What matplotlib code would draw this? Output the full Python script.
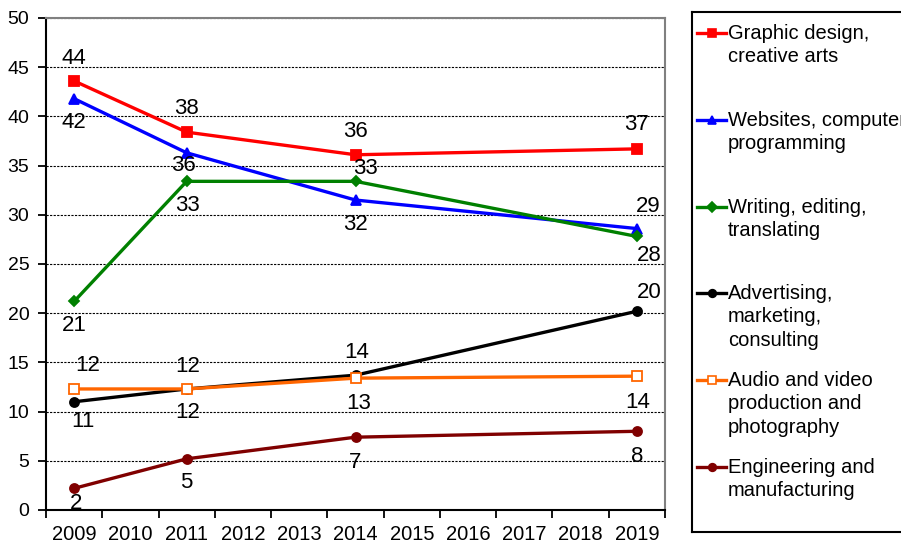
import matplotlib.pyplot as plt
from matplotlib.ticker import MultipleLocator, FixedLocator

plt.rcParams['font.family'] = ['Liberation Sans', 'DejaVu Sans']

# category axis 2009..2019, data only at some years
years = ['2009', '2010', '2011', '2012', '2013', '2014', '2015', '2016', '2017', '2018', '2019']
data_years = ['2009', '2011', '2014', '2019']

series_names = [
    'Graphic design,\ncreative arts',
    'Websites, computer\nprogramming',
    'Writing, editing,\ntranslating',
    'Advertising,\nmarketing,\nconsulting',
    'Audio and video\nproduction and\nphotography',
    'Engineering and\nmanufacturing',
]
graphic = [43.6, 38.4, 36.1, 36.7]
websites = [41.8, 36.3, 31.5, 28.6]
writing = [21.2, 33.4, 33.4, 27.8]
advertising = [11.0, 12.3, 13.7, 20.2]
audio = [12.3, 12.3, 13.4, 13.6]
engineering = [2.2, 5.2, 7.4, 8.0]
values = [graphic, websites, writing, advertising, audio, engineering]

# style per series
colors = ['#ff0000', '#0000ff', '#008000', '#000000', '#ff6600', '#800000']
markers = ['s', '^', 'D', 'o', 's', 'o']
msizes = [7, 7, 5, 6.5, 7, 6.5]
faces = ['#ff0000', '#0000ff', '#008000', '#000000', 'white', '#800000']

# label offsets in pixels (dx, dy) for each point
offsets = [
    [(0, 22), (0, 24), (0, 23), (0, 24)],
    [(0, -24), (-3, -13), (0, -24), (11, 22)],
    [(0, -24), (1, -24), (10, 13), (12, -19)],
    [(9, -20), (1, -24), (1, 23), (12, 19)],
    [(14, 23), (1, 22), (3, -25), (1, -26)],
    [(2, -15), (0, -24), (0, -25), (0, -25)],
]

fig = plt.figure(figsize=(9.01, 5.44), dpi=100)
ax = fig.add_axes([46 / 901, 34 / 544, 619 / 901, 492 / 544])

xpos = [years.index(y) for y in data_years]
for vals, col, mk, ms, fc, offs in zip(values, colors, markers, msizes, faces, offsets):
    ax.plot(xpos, vals, color=col, lw=2.4, marker=mk, ms=ms,
            markerfacecolor=fc, markeredgecolor=col, markeredgewidth=1.3, zorder=3)
    for x, v, (dx, dy) in zip(xpos, vals, offs):
        ax.annotate(f'{v:.0f}', (x, v), xytext=(dx, dy), textcoords='offset pixels',
                    ha='center', va='center', fontsize=16, zorder=4)

ax.set_xlim(-0.5, len(years) - 0.5)
ax.set_ylim(0, 50)
ax.yaxis.set_major_locator(MultipleLocator(5))
ax.set_xticks(range(len(years)))
ax.set_xticklabels(years)
ax.xaxis.set_minor_locator(FixedLocator([i - 0.5 for i in range(len(years) + 1)]))
ax.tick_params(axis='x', which='major', length=0, pad=11, labelsize=14.5)
ax.tick_params(axis='x', which='minor', length=6, width=1.3, direction='out')
ax.tick_params(axis='y', length=6, width=1.3, pad=6, labelsize=14)
ax.grid(axis='y', color='black', linestyle=(0, (2, 1.2)), lw=0.8)
ax.set_axisbelow(True)
for s in ['left', 'bottom']:
    ax.spines[s].set_color('black')
    ax.spines[s].set_linewidth(1.5)
for s in ['right', 'top']:
    ax.spines[s].set_color('#808080')
    ax.spines[s].set_linewidth(1.5)

# hand-made legend box
lax = fig.add_axes([692 / 901, 12 / 544, 220 / 901, 520 / 544])
lax.set_xlim(692, 912)
lax.set_ylim(532, 12)
lax.set_xticks([])
lax.set_yticks([])
for s in lax.spines.values():
    s.set_linewidth(1.5)
entry_y = [33, 120, 207, 293, 380, 467]
for name, col, mk, fc, y in zip(series_names, colors, markers, faces, entry_y):
    lax.plot([697, 726], [y, y], color=col, lw=2.4, clip_on=False)
    lax.plot([711.5], [y], color=col, marker=mk, ms=5.5, markerfacecolor=fc,
             markeredgecolor=col, markeredgewidth=1.2, clip_on=False)
    lax.text(728, y - 9, name, ha='left', va='top', fontsize=14.5,
             linespacing=1.3, clip_on=False)

fig.savefig('out.png', dpi=100)
